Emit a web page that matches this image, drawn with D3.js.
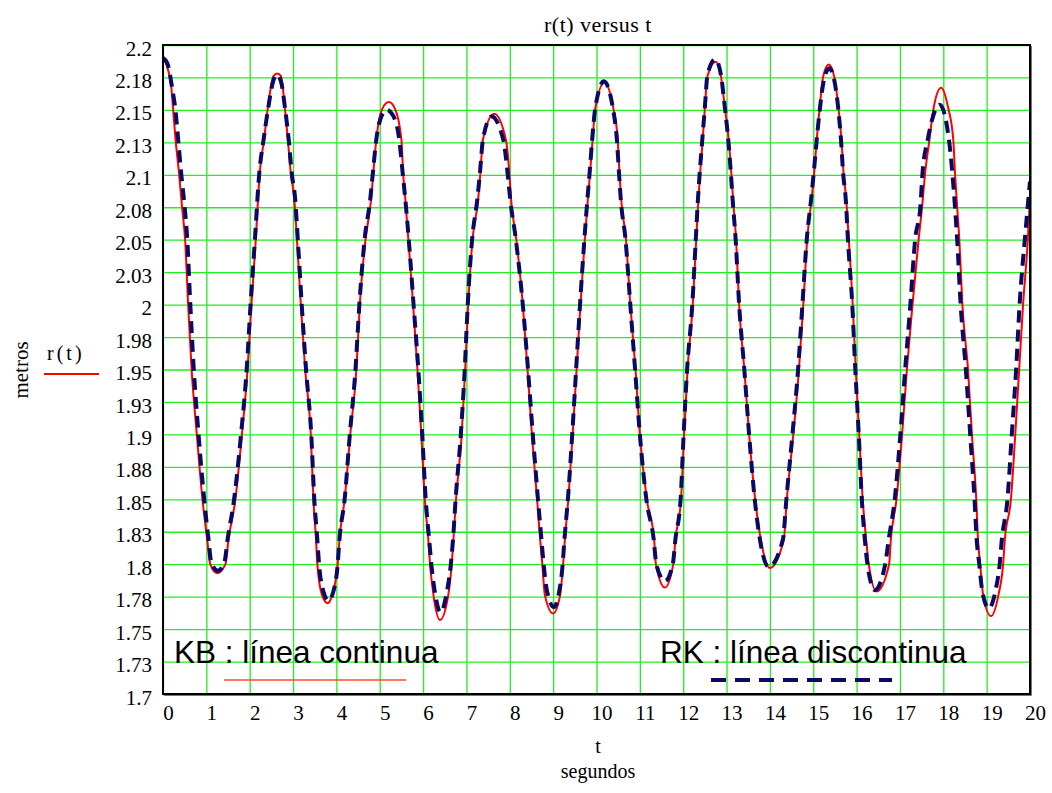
<!DOCTYPE html>
<html lang="es">
<head>
<meta charset="UTF-8">
<title>r(t) versus t</title>
<script src="https://cdn.jsdelivr.net/npm/d3@7/dist/d3.min.js"></script>
<style>
  body { margin: 0; background: #fff; }
  svg { display: block; }
</style>
</head>
<body>
<script>
// ejes
const xTicks = [0, 1, 2, 3, 4, 5, 6, 7, 8, 9, 10, 11, 12, 13, 14, 15, 16, 17, 18, 19, 20];
const yTicks = [1.7, 1.725, 1.75, 1.775, 1.8, 1.825, 1.85, 1.875, 1.9, 1.925, 1.95,
                1.975, 2.0, 2.025, 2.05, 2.075, 2.1, 2.125, 2.15, 2.175, 2.2];
const yTickLabels = ["1.7", "1.73", "1.75", "1.78", "1.8", "1.83", "1.85", "1.88", "1.9", "1.93", "1.95",
                     "1.98", "2", "2.03", "2.05", "2.08", "2.1", "2.13", "2.15", "2.18", "2.2"];

// KB : linea continua  [t, r(t)]
const kbPoints = [
  [0.00, 2.190], [0.04, 2.188], [0.19, 2.168], [0.23, 2.152], [0.29, 2.127], [0.37, 2.101],
  [0.44, 2.075], [0.51, 2.050], [0.58, 2.000], [0.66, 1.950], [0.78, 1.900], [0.91, 1.850],
  [1.02, 1.819], [1.09, 1.800], [1.25, 1.793], [1.44, 1.800], [1.51, 1.819], [1.67, 1.850],
  [1.82, 1.900], [1.95, 1.950], [2.04, 2.000], [2.14, 2.050], [2.23, 2.101], [2.33, 2.127],
  [2.42, 2.152], [2.55, 2.176], [2.64, 2.178], [2.72, 2.176], [2.81, 2.152], [2.88, 2.127],
  [2.95, 2.101], [3.03, 2.081], [3.09, 2.050], [3.18, 2.000], [3.28, 1.950], [3.41, 1.900],
  [3.47, 1.850], [3.53, 1.819], [3.56, 1.800], [3.67, 1.776], [3.80, 1.770], [3.90, 1.776],
  [4.03, 1.800], [4.07, 1.819], [4.19, 1.850], [4.32, 1.900], [4.46, 1.950], [4.54, 2.000],
  [4.67, 2.050], [4.80, 2.081], [4.85, 2.101], [4.92, 2.127], [5.06, 2.151], [5.21, 2.156],
  [5.35, 2.151], [5.50, 2.127], [5.54, 2.101], [5.59, 2.081], [5.66, 2.050], [5.77, 2.000],
  [5.87, 1.950], [5.96, 1.900], [6.04, 1.850], [6.12, 1.819], [6.16, 1.800], [6.24, 1.776],
  [6.39, 1.757], [6.58, 1.776], [6.66, 1.800], [6.70, 1.819], [6.76, 1.850], [6.89, 1.900],
  [6.97, 1.950], [7.04, 2.000], [7.14, 2.050], [7.27, 2.081], [7.32, 2.101], [7.38, 2.127],
  [7.64, 2.147], [7.91, 2.127], [7.99, 2.101], [8.03, 2.081], [8.15, 2.050], [8.30, 2.000],
  [8.41, 1.950], [8.51, 1.900], [8.63, 1.850], [8.70, 1.819], [8.75, 1.800], [8.81, 1.776],
  [9.00, 1.762], [9.16, 1.776], [9.23, 1.800], [9.27, 1.819], [9.35, 1.850], [9.45, 1.900],
  [9.54, 1.950], [9.63, 2.000], [9.73, 2.050], [9.80, 2.081], [9.85, 2.101], [9.91, 2.127],
  [9.97, 2.151], [10.18, 2.171], [10.39, 2.151], [10.49, 2.127], [10.53, 2.101], [10.57, 2.081],
  [10.68, 2.050], [10.78, 2.000], [10.90, 1.950], [11.00, 1.900], [11.16, 1.850], [11.33, 1.819],
  [11.37, 1.800], [11.58, 1.782], [11.77, 1.800], [11.82, 1.819], [11.95, 1.850], [12.02, 1.900],
  [12.10, 1.950], [12.22, 2.000], [12.30, 2.050], [12.35, 2.081], [12.39, 2.101], [12.45, 2.127],
  [12.50, 2.152], [12.56, 2.176], [12.75, 2.187], [12.87, 2.176], [12.96, 2.152], [13.05, 2.127],
  [13.11, 2.101], [13.15, 2.081], [13.22, 2.050], [13.29, 2.000], [13.41, 1.950], [13.52, 1.900],
  [13.66, 1.850], [13.79, 1.819], [14.00, 1.797], [14.32, 1.819], [14.39, 1.850], [14.54, 1.900],
  [14.67, 1.950], [14.77, 2.000], [14.86, 2.050], [14.96, 2.081], [15.02, 2.101], [15.08, 2.127],
  [15.15, 2.152], [15.23, 2.176], [15.36, 2.185], [15.48, 2.176], [15.58, 2.152], [15.65, 2.127],
  [15.70, 2.101], [15.76, 2.081], [15.82, 2.050], [15.91, 2.000], [15.98, 1.950], [16.06, 1.900],
  [16.14, 1.850], [16.22, 1.819], [16.28, 1.800], [16.46, 1.779], [16.75, 1.800], [16.79, 1.819],
  [16.92, 1.850], [17.05, 1.900], [17.16, 1.950], [17.29, 2.000], [17.43, 2.050], [17.51, 2.075],
  [17.58, 2.101], [17.68, 2.127], [17.78, 2.152], [17.95, 2.167], [18.11, 2.152], [18.23, 2.127],
  [18.27, 2.101], [18.32, 2.075], [18.37, 2.050], [18.44, 2.000], [18.57, 1.950], [18.66, 1.900],
  [18.76, 1.850], [18.80, 1.819], [18.85, 1.800], [18.92, 1.776], [19.10, 1.760], [19.27, 1.776],
  [19.38, 1.800], [19.42, 1.819], [19.56, 1.850], [19.66, 1.900], [19.75, 1.950], [19.84, 2.000],
  [19.95, 2.050], [20.00, 2.083]
];

// RK : linea discontinua  [t, r(t)]
const rkPoints = [
  [0.00, 2.190], [0.10, 2.186], [0.22, 2.165], [0.28, 2.152], [0.35, 2.127], [0.42, 2.101],
  [0.50, 2.075], [0.56, 2.050], [0.63, 2.000], [0.71, 1.950], [0.82, 1.900], [0.95, 1.850],
  [1.05, 1.819], [1.12, 1.800], [1.27, 1.795], [1.42, 1.802], [1.49, 1.819], [1.64, 1.850],
  [1.80, 1.900], [1.93, 1.950], [2.02, 2.000], [2.12, 2.050], [2.22, 2.101], [2.32, 2.127],
  [2.42, 2.150], [2.54, 2.172], [2.62, 2.177], [2.72, 2.172], [2.82, 2.150], [2.90, 2.127],
  [2.97, 2.101], [3.05, 2.081], [3.11, 2.050], [3.20, 2.000], [3.30, 1.950], [3.42, 1.900],
  [3.49, 1.850], [3.56, 1.819], [3.60, 1.800], [3.70, 1.779], [3.82, 1.772], [3.93, 1.779],
  [4.03, 1.800], [4.07, 1.819], [4.19, 1.850], [4.31, 1.900], [4.44, 1.950], [4.53, 2.000],
  [4.65, 2.050], [4.78, 2.081], [4.84, 2.101], [4.92, 2.127], [5.05, 2.146], [5.16, 2.150],
  [5.30, 2.146], [5.45, 2.127], [5.53, 2.101], [5.59, 2.081], [5.67, 2.050], [5.78, 2.000],
  [5.89, 1.950], [5.98, 1.900], [6.06, 1.850], [6.14, 1.819], [6.19, 1.800], [6.27, 1.779],
  [6.40, 1.763], [6.55, 1.779], [6.64, 1.800], [6.69, 1.819], [6.75, 1.850], [6.87, 1.900],
  [6.96, 1.950], [7.03, 2.000], [7.13, 2.050], [7.25, 2.081], [7.31, 2.101], [7.38, 2.127],
  [7.58, 2.145], [7.85, 2.127], [7.95, 2.101], [8.01, 2.081], [8.14, 2.050], [8.30, 2.000],
  [8.42, 1.950], [8.53, 1.900], [8.65, 1.850], [8.73, 1.819], [8.78, 1.800], [8.86, 1.779],
  [9.02, 1.767], [9.14, 1.779], [9.22, 1.800], [9.26, 1.819], [9.34, 1.850], [9.44, 1.900],
  [9.53, 1.950], [9.62, 2.000], [9.72, 2.050], [9.79, 2.081], [9.84, 2.101], [9.90, 2.127],
  [9.97, 2.151], [10.17, 2.172], [10.38, 2.151], [10.47, 2.127], [10.52, 2.101], [10.56, 2.081],
  [10.67, 2.050], [10.78, 2.000], [10.89, 1.950], [11.00, 1.900], [11.15, 1.850], [11.32, 1.819],
  [11.38, 1.800], [11.58, 1.787], [11.76, 1.800], [11.82, 1.819], [11.94, 1.850], [12.01, 1.900],
  [12.09, 1.950], [12.21, 2.000], [12.29, 2.050], [12.34, 2.081], [12.38, 2.101], [12.44, 2.127],
  [12.50, 2.152], [12.56, 2.177], [12.74, 2.189], [12.87, 2.177], [12.96, 2.152], [13.04, 2.127],
  [13.10, 2.101], [13.14, 2.081], [13.21, 2.050], [13.29, 2.000], [13.41, 1.950], [13.52, 1.900],
  [13.65, 1.850], [13.77, 1.819], [13.97, 1.798], [14.30, 1.819], [14.38, 1.850], [14.52, 1.900],
  [14.65, 1.950], [14.75, 2.000], [14.85, 2.050], [14.95, 2.081], [15.01, 2.101], [15.08, 2.127],
  [15.15, 2.150], [15.24, 2.172], [15.37, 2.182], [15.49, 2.172], [15.58, 2.150], [15.64, 2.127],
  [15.69, 2.101], [15.75, 2.081], [15.80, 2.050], [15.90, 2.000], [15.97, 1.950], [16.05, 1.900],
  [16.12, 1.850], [16.19, 1.819], [16.25, 1.800], [16.42, 1.780], [16.66, 1.800], [16.74, 1.819],
  [16.88, 1.850], [17.01, 1.900], [17.12, 1.950], [17.24, 2.000], [17.35, 2.050], [17.47, 2.075],
  [17.52, 2.101], [17.64, 2.127], [17.92, 2.154], [18.13, 2.127], [18.21, 2.101], [18.27, 2.075],
  [18.32, 2.050], [18.40, 2.000], [18.52, 1.950], [18.62, 1.900], [18.72, 1.850], [18.77, 1.819],
  [18.83, 1.800], [18.90, 1.779], [19.05, 1.766], [19.20, 1.779], [19.30, 1.800], [19.35, 1.819],
  [19.48, 1.850], [19.58, 1.900], [19.68, 1.950], [19.76, 2.000], [19.88, 2.050], [20.00, 2.095]
];

var w = 1052, h = 793;
// area del grafico
var pLeft = 163, pRight = 1030, pTop = 45, pBottom = 694;
var serif = "'Liberation Serif', 'Times New Roman', serif";
var sans = "'Liberation Sans', Arial, sans-serif";

var svg = d3.select("body").append("svg")
    .attr("width", w)
    .attr("height", h)
    .style("background", "#fff");

var xScale = d3.scaleLinear().domain([0, 20]).range([pLeft, pRight]);
var yScale = d3.scaleLinear().domain([1.7, 2.2]).range([pBottom, pTop]);

// rejilla verde
var gx = svg.append("g")
    .attr("transform", "translate(0," + pBottom + ")")
    .call(d3.axisBottom(xScale).tickValues(xTicks).tickSize(-(pBottom - pTop)).tickFormat(""));
var gy = svg.append("g")
    .attr("transform", "translate(" + pLeft + ",0)")
    .call(d3.axisLeft(yScale).tickValues(yTicks).tickSize(-(pRight - pLeft)).tickFormat(""));
[gx, gy].forEach(function (g) {
    g.select(".domain").remove();
    g.selectAll(".tick line").attr("stroke", "#22ee22").attr("stroke-width", 1.3);
});

// etiquetas de los ejes
var ax = svg.append("g")
    .attr("transform", "translate(0," + pBottom + ")")
    .call(d3.axisBottom(xScale).tickValues(xTicks).tickSize(0).tickPadding(11));
ax.select(".domain").remove();
ax.selectAll("text")
    .attr("x", 5)
    .attr("font-family", serif)
    .attr("font-size", "21px")
    .attr("fill", "#000");

var ay = svg.append("g")
    .attr("transform", "translate(" + pLeft + ",0)")
    .call(d3.axisLeft(yScale).tickValues(yTicks).tickSize(0).tickPadding(11)
        .tickFormat(function (d, i) { return yTickLabels[i]; }));
ay.select(".domain").remove();
ay.selectAll("text")
    .attr("dy", "0.48em")
    .attr("font-family", serif)
    .attr("font-size", "21px")
    .attr("fill", "#000");

var line = d3.line()
    .x(function (d) { return xScale(d[0]); })
    .y(function (d) { return yScale(d[1]); })
    .curve(d3.curveMonotoneX);

svg.append("path")
    .datum(kbPoints)
    .attr("d", line)
    .attr("fill", "none")
    .attr("stroke", "#ff0000")
    .attr("stroke-width", 2);

svg.append("path")
    .datum(rkPoints)
    .attr("d", line)
    .attr("fill", "none")
    .attr("stroke", "#0a0a64")
    .attr("stroke-width", 4)
    .attr("stroke-dasharray", "12,7");

// marco
svg.append("rect")
    .attr("x", pLeft).attr("y", pTop)
    .attr("width", pRight - pLeft).attr("height", pBottom - pTop)
    .attr("fill", "none")
    .attr("stroke", "#000")
    .attr("stroke-width", 2);
svg.append("path")
    .attr("d", "M" + (pRight + 1.5) + "," + (pTop + 1) + "V" + (pBottom + 1.5) + "H" + (pLeft + 1))
    .attr("fill", "none")
    .attr("stroke", "#777")
    .attr("stroke-width", 1);

// leyendas dentro del grafico
svg.append("text")
    .attr("x", 174).attr("y", 663)
    .attr("font-family", sans).attr("font-size", "31.5px")
    .text("KB : línea continua");
svg.append("line")
    .attr("x1", 224).attr("x2", 406).attr("y1", 680).attr("y2", 680)
    .attr("stroke", "#ff4a2a").attr("stroke-width", 1.5);

svg.append("text")
    .attr("x", 660).attr("y", 663)
    .attr("font-family", sans).attr("font-size", "31.5px")
    .text("RK : línea discontinua");
svg.append("line")
    .attr("x1", 711).attr("x2", 892).attr("y1", 680).attr("y2", 680)
    .attr("stroke", "#0a0a64").attr("stroke-width", 4)
    .attr("stroke-dasharray", "15,9");

// titulos
svg.append("text")
    .attr("x", 598).attr("y", 32)
    .attr("text-anchor", "middle")
    .attr("font-family", serif).attr("font-size", "22px")
    .attr("letter-spacing", "0.5px")
    .text("r(t) versus t");

svg.append("text")
    .attr("transform", "translate(28,370) rotate(-90)")
    .attr("text-anchor", "middle")
    .attr("font-family", serif).attr("font-size", "21px")
    .text("metros");

svg.append("text")
    .attr("x", 47).attr("y", 360)
    .attr("font-family", serif).attr("font-size", "20px")
    .attr("letter-spacing", "3px")
    .text("r(t)");
svg.append("line")
    .attr("x1", 44).attr("x2", 99).attr("y1", 374).attr("y2", 374)
    .attr("stroke", "#ff0000").attr("stroke-width", 2);

svg.append("text")
    .attr("x", 598).attr("y", 753)
    .attr("text-anchor", "middle")
    .attr("font-family", serif).attr("font-size", "20px")
    .text("t");
svg.append("text")
    .attr("x", 598).attr("y", 778)
    .attr("text-anchor", "middle")
    .attr("font-family", serif).attr("font-size", "20px")
    .text("segundos");
</script>
</body>
</html>
